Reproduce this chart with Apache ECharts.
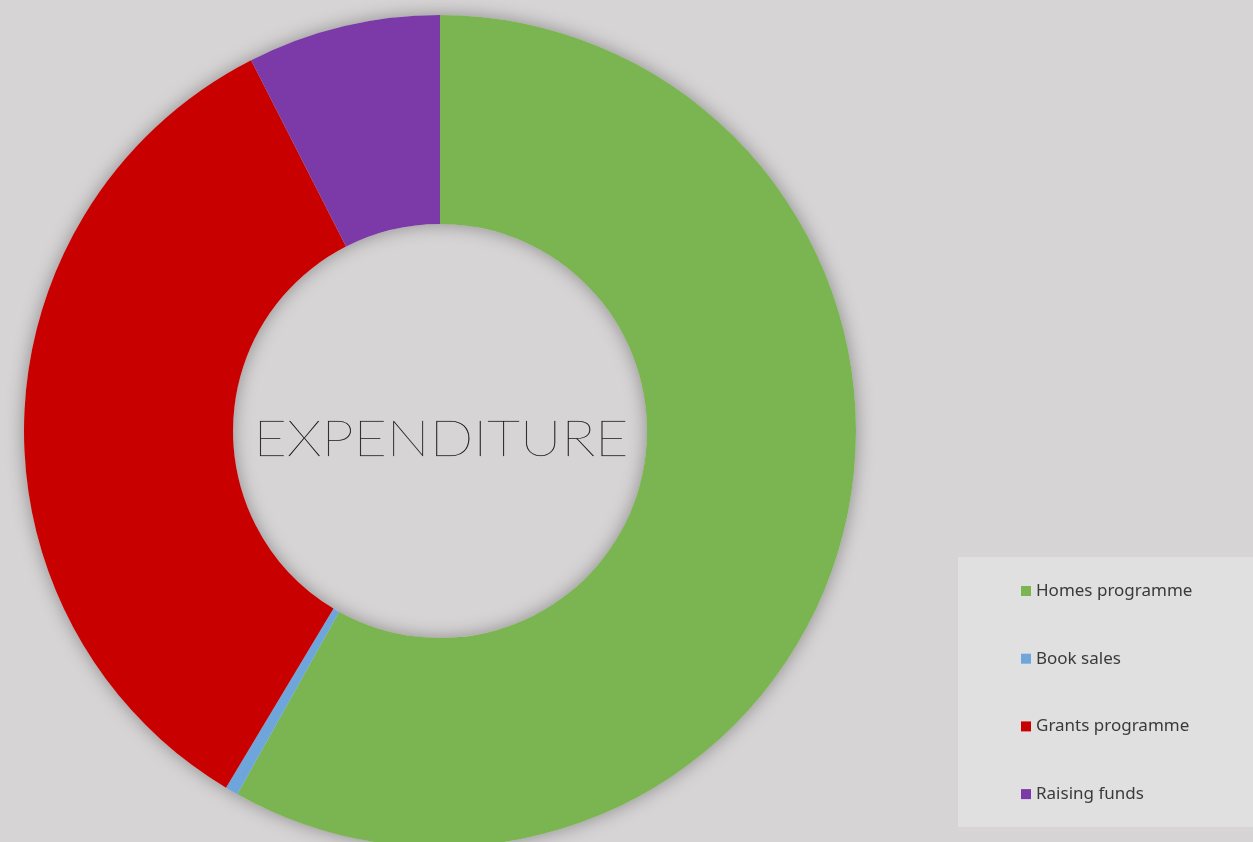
<!DOCTYPE html>
<html>
<head>
<meta charset="utf-8">
<style>
  html, body { margin: 0; padding: 0; background: #d7d4d5; }
  #chart { width: 1253px; height: 842px; }
</style>
<script src="https://cdn.jsdelivr.net/npm/echarts@6/dist/echarts.min.js"></script>
</head>
<body>
<div id="chart"></div>
<script>
const categories = ["Homes programme", "Book sales", "Grants programme", "Raising funds"];
const shares = [58.1, 0.5, 33.9, 7.5];
const colors = ["#7ab552", "#6ea6dc", "#c80000", "#7b3aa8"];
const centerTitle = "EXPENDITURE";

const chart = echarts.init(document.getElementById("chart"));

chart.setOption({
  backgroundColor: "#d7d4d5",
  animation: false,
  color: colors,
  graphic: [
    {
      type: "rect",
      left: 958,
      top: 557,
      shape: { width: 295, height: 270 },
      style: { fill: "#e0e0e0" },
      z: 0
    },
    {
      type: "text",
      x: 441,
      y: 440,
      scaleX: 1.17,
      style: {
        text: centerTitle,
        fontFamily: "Lato",
        fontWeight: 100,
        fontSize: 49,
        fill: "#000000",
        stroke: "rgba(0,0,0,0.35)",
        lineWidth: 0.5,
        textAlign: "center",
        textVerticalAlign: "middle"
      },
      z: 10
    }
  ],
  legend: {
    orient: "vertical",
    left: 1021,
    top: 581,
    padding: 0,
    icon: "rect",
    itemWidth: 10,
    itemHeight: 10,
    itemGap: 47.7,
    selectedMode: false,
    data: categories,
    textStyle: {
      fontFamily: "Noto Sans",
      fontSize: 17,
      lineHeight: 20,
      color: "#3a3a3a"
    }
  },
  series: [
    {
      // shadow ring behind the donut
      type: "pie",
      center: [440, 431],
      radius: [207, 416],
      silent: true,
      label: { show: false },
      z: 1,
      itemStyle: {
        color: "#d7d4d5",
        shadowBlur: 18,
        shadowColor: "rgba(0,0,0,0.35)"
      },
      data: [{ value: 1, name: "" }]
    },
    {
      type: "pie",
      center: [440, 431],
      radius: [207, 416],
      startAngle: 90,
      clockwise: true,
      label: { show: false },
      labelLine: { show: false },
      z: 2,
      data: categories.map((name, i) => ({ name, value: shares[i] }))
    }
  ]
});
</script>
</body>
</html>
